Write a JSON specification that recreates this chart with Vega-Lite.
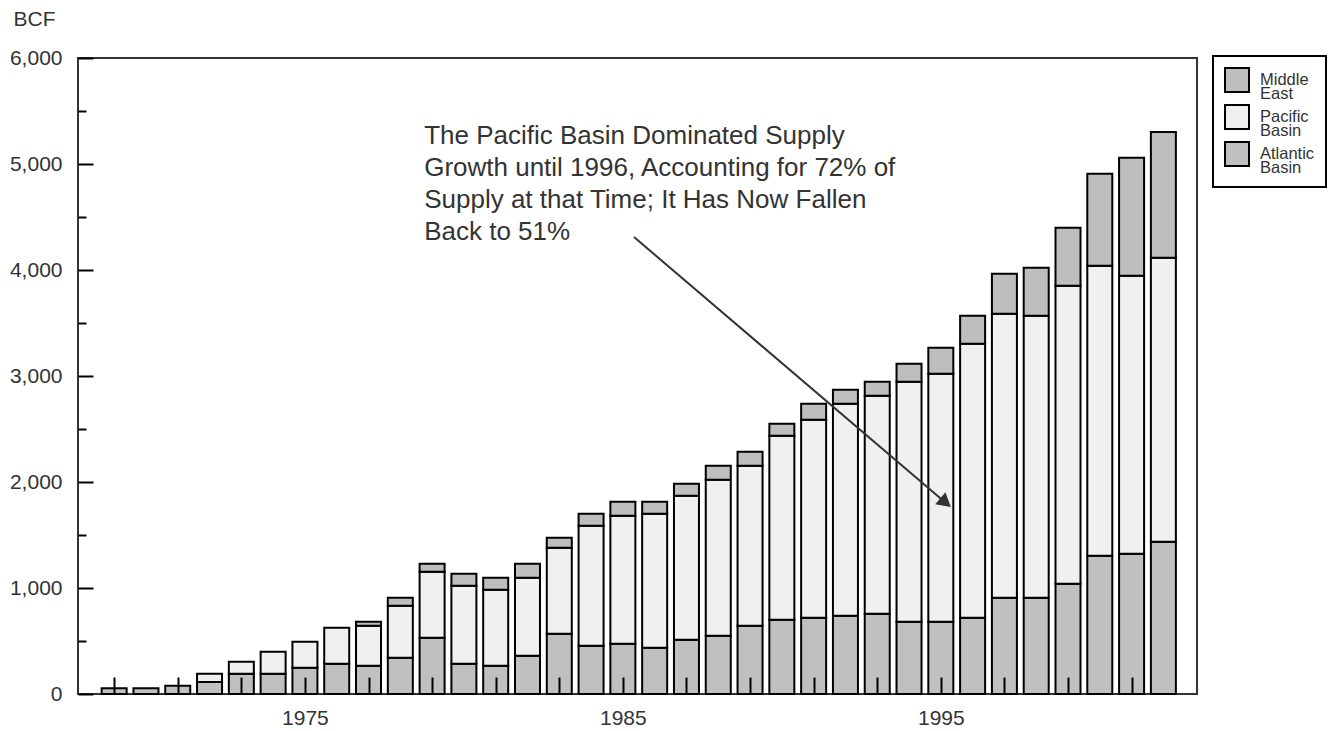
{
  "$schema": "https://vega.github.io/schema/vega-lite/v6.json",
  "width": 1119,
  "height": 636,
  "autosize": {"type": "none"},
  "padding": {"left": 78, "top": 58, "right": 133, "bottom": 37},
  "background": "white",
  "config": {
    "font": "Liberation Sans",
    "view": {"stroke": "#333333", "strokeWidth": 2},
    "axis": {"grid": false, "domain": false}
  },
  "datasets": {
    "supply": [
      {"year": 1969, "region": "Atlantic Basin", "bcf": 55},
      {"year": 1970, "region": "Atlantic Basin", "bcf": 55},
      {"year": 1971, "region": "Atlantic Basin", "bcf": 78},
      {"year": 1972, "region": "Atlantic Basin", "bcf": 113},
      {"year": 1972, "region": "Pacific Basin", "bcf": 79},
      {"year": 1973, "region": "Atlantic Basin", "bcf": 192},
      {"year": 1973, "region": "Pacific Basin", "bcf": 113},
      {"year": 1974, "region": "Atlantic Basin", "bcf": 192},
      {"year": 1974, "region": "Pacific Basin", "bcf": 207},
      {"year": 1975, "region": "Atlantic Basin", "bcf": 248},
      {"year": 1975, "region": "Pacific Basin", "bcf": 246},
      {"year": 1976, "region": "Atlantic Basin", "bcf": 286},
      {"year": 1976, "region": "Pacific Basin", "bcf": 340},
      {"year": 1977, "region": "Atlantic Basin", "bcf": 267},
      {"year": 1977, "region": "Pacific Basin", "bcf": 377},
      {"year": 1977, "region": "Middle East", "bcf": 38},
      {"year": 1978, "region": "Atlantic Basin", "bcf": 342},
      {"year": 1978, "region": "Pacific Basin", "bcf": 491},
      {"year": 1978, "region": "Middle East", "bcf": 76},
      {"year": 1979, "region": "Atlantic Basin", "bcf": 531},
      {"year": 1979, "region": "Pacific Basin", "bcf": 623},
      {"year": 1979, "region": "Middle East", "bcf": 75},
      {"year": 1980, "region": "Atlantic Basin", "bcf": 286},
      {"year": 1980, "region": "Pacific Basin", "bcf": 736},
      {"year": 1980, "region": "Middle East", "bcf": 113},
      {"year": 1981, "region": "Atlantic Basin", "bcf": 267},
      {"year": 1981, "region": "Pacific Basin", "bcf": 717},
      {"year": 1981, "region": "Middle East", "bcf": 113},
      {"year": 1982, "region": "Atlantic Basin", "bcf": 361},
      {"year": 1982, "region": "Pacific Basin", "bcf": 736},
      {"year": 1982, "region": "Middle East", "bcf": 132},
      {"year": 1983, "region": "Atlantic Basin", "bcf": 569},
      {"year": 1983, "region": "Pacific Basin", "bcf": 811},
      {"year": 1983, "region": "Middle East", "bcf": 95},
      {"year": 1984, "region": "Atlantic Basin", "bcf": 456},
      {"year": 1984, "region": "Pacific Basin", "bcf": 1132},
      {"year": 1984, "region": "Middle East", "bcf": 113},
      {"year": 1985, "region": "Atlantic Basin", "bcf": 475},
      {"year": 1985, "region": "Pacific Basin", "bcf": 1207},
      {"year": 1985, "region": "Middle East", "bcf": 132},
      {"year": 1986, "region": "Atlantic Basin", "bcf": 437},
      {"year": 1986, "region": "Pacific Basin", "bcf": 1264},
      {"year": 1986, "region": "Middle East", "bcf": 113},
      {"year": 1987, "region": "Atlantic Basin", "bcf": 512},
      {"year": 1987, "region": "Pacific Basin", "bcf": 1359},
      {"year": 1987, "region": "Middle East", "bcf": 113},
      {"year": 1988, "region": "Atlantic Basin", "bcf": 550},
      {"year": 1988, "region": "Pacific Basin", "bcf": 1472},
      {"year": 1988, "region": "Middle East", "bcf": 132},
      {"year": 1989, "region": "Atlantic Basin", "bcf": 644},
      {"year": 1989, "region": "Pacific Basin", "bcf": 1510},
      {"year": 1989, "region": "Middle East", "bcf": 132},
      {"year": 1990, "region": "Atlantic Basin", "bcf": 701},
      {"year": 1990, "region": "Pacific Basin", "bcf": 1736},
      {"year": 1990, "region": "Middle East", "bcf": 113},
      {"year": 1991, "region": "Atlantic Basin", "bcf": 720},
      {"year": 1991, "region": "Pacific Basin", "bcf": 1868},
      {"year": 1991, "region": "Middle East", "bcf": 151},
      {"year": 1992, "region": "Atlantic Basin", "bcf": 739},
      {"year": 1992, "region": "Pacific Basin", "bcf": 2000},
      {"year": 1992, "region": "Middle East", "bcf": 132},
      {"year": 1993, "region": "Atlantic Basin", "bcf": 758},
      {"year": 1993, "region": "Pacific Basin", "bcf": 2056},
      {"year": 1993, "region": "Middle East", "bcf": 132},
      {"year": 1994, "region": "Atlantic Basin", "bcf": 682},
      {"year": 1994, "region": "Pacific Basin", "bcf": 2264},
      {"year": 1994, "region": "Middle East", "bcf": 170},
      {"year": 1995, "region": "Atlantic Basin", "bcf": 682},
      {"year": 1995, "region": "Pacific Basin", "bcf": 2340},
      {"year": 1995, "region": "Middle East", "bcf": 245},
      {"year": 1996, "region": "Atlantic Basin", "bcf": 720},
      {"year": 1996, "region": "Pacific Basin", "bcf": 2585},
      {"year": 1996, "region": "Middle East", "bcf": 264},
      {"year": 1997, "region": "Atlantic Basin", "bcf": 909},
      {"year": 1997, "region": "Pacific Basin", "bcf": 2679},
      {"year": 1997, "region": "Middle East", "bcf": 377},
      {"year": 1998, "region": "Atlantic Basin", "bcf": 909},
      {"year": 1998, "region": "Pacific Basin", "bcf": 2660},
      {"year": 1998, "region": "Middle East", "bcf": 453},
      {"year": 1999, "region": "Atlantic Basin", "bcf": 1041},
      {"year": 1999, "region": "Pacific Basin", "bcf": 2811},
      {"year": 1999, "region": "Middle East", "bcf": 547},
      {"year": 2000, "region": "Atlantic Basin", "bcf": 1305},
      {"year": 2000, "region": "Pacific Basin", "bcf": 2736},
      {"year": 2000, "region": "Middle East", "bcf": 868},
      {"year": 2001, "region": "Atlantic Basin", "bcf": 1324},
      {"year": 2001, "region": "Pacific Basin", "bcf": 2622},
      {"year": 2001, "region": "Middle East", "bcf": 1114},
      {"year": 2002, "region": "Atlantic Basin", "bcf": 1437},
      {"year": 2002, "region": "Pacific Basin", "bcf": 2679},
      {"year": 2002, "region": "Middle East", "bcf": 1186}
    ]
  },
  "layer": [
    {
      "data": {"name": "supply"},
      "transform": [
        {"calculate": "indexof(['Atlantic Basin', 'Pacific Basin', 'Middle East'], datum.region)", "as": "stack_rank"}
      ],
      "mark": {"type": "bar", "width": 25, "stroke": "black", "strokeWidth": 2, "opacity": 1},
      "encoding": {
        "x": {
          "field": "year",
          "type": "quantitative",
          "scale": {"domain": [1968.02, 2002.9], "nice": false, "zero": false},
          "axis": {
            "title": null,
            "values": [1969,1970,1971,1972,1973,1974,1975,1976,1977,1978,1979,1980,1981,1982,1983,1984,1985,1986,1987,1988,1989,1990,1991,1992,1993,1994,1995,1996,1997,1998,1999,2000,2001,2002],
            "labelExpr": "(datum.value == 1975 || datum.value == 1985 || datum.value == 1995) ? '' + datum.value : ''",
            "tickSize": {"condition": {"test": "datum.value % 2 == 1", "value": -17}, "value": -9},
            "tickColor": "black",
            "tickWidth": 2,
            "labelPadding": 30,
            "labelFontSize": 21,
            "labelColor": "#333333",
            "labelFont": "Liberation Sans",
            "labelBaseline": "top",
            "labelFlush": false,
            "labelOverlap": false,
            "zindex": 1
          }
        },
        "y": {
          "field": "bcf",
          "type": "quantitative",
          "aggregate": "sum",
          "stack": "zero",
          "scale": {"domain": [0, 6000], "nice": false},
          "axis": {
            "title": "BCF",
            "titleAngle": 0,
            "titleAlign": "left",
            "titleBaseline": "top",
            "titleX": -65,
            "titleY": -50,
            "titleFontSize": 21,
            "titleFontWeight": "normal",
            "titleColor": "#333333",
            "titleFont": "Liberation Sans",
            "values": [0,500,1000,1500,2000,2500,3000,3500,4000,4500,5000,5500,6000],
            "labelExpr": "datum.value % 1000 == 0 ? format(datum.value, ',') : ''",
            "tickSize": {"condition": {"test": "datum.value % 1000 == 0", "value": -15}, "value": -8},
            "tickColor": "black",
            "tickWidth": 2,
            "labelPadding": 31,
            "labelFontSize": 21,
            "labelColor": "#333333",
            "labelFont": "Liberation Sans",
            "labelOverlap": false,
            "zindex": 1
          }
        },
        "order": {"field": "stack_rank", "type": "quantitative", "sort": "ascending"},
        "color": {
          "field": "region",
          "type": "nominal",
          "scale": {
            "domain": ["Middle East", "Pacific Basin", "Atlantic Basin"],
            "range": ["#bebebe", "#f0f0f0", "#c0c0c0"]
          },
          "legend": {
            "title": null,
            "orient": "none",
            "legendX": 1135,
            "legendY": -2,
            "padding": 11,
            "strokeColor": "black",
            "symbolType": "square",
            "symbolSize": 576,
            "symbolStrokeColor": "black",
            "symbolStrokeWidth": 2,
            "symbolOpacity": 1,
            "labelFontSize": 16.5,
            "labelFont": "Liberation Sans",
            "labelColor": "#333333",
            "labelOffset": 10,
            "rowPadding": -1,
            "labelExpr": "split(datum.label, ' ')",
            "encode": {
              "labels": {"update": {"lineHeight": {"value": 13.5}}},
              "legend": {"update": {"strokeWidth": {"value": 2}}}
            }
          }
        }
      }
    },
    {
      "data": {"values": [{}]},
      "mark": {
        "type": "text",
        "text": ["The Pacific Basin Dominated Supply", "Growth until 1996, Accounting for 72% of", "Supply at that Time; It Has Now Fallen", "Back to 51%"],
        "align": "left",
        "baseline": "alphabetic",
        "fontSize": 26,
        "lineHeight": 32,
        "font": "Liberation Sans",
        "color": "#333333"
      },
      "encoding": {
        "x": {"datum": 1978.75, "type": "quantitative"},
        "y": {"datum": 5192, "type": "quantitative"}
      }
    },
    {
      "data": {"values": [{}]},
      "mark": {"type": "rule", "color": "#333333", "strokeWidth": 2},
      "encoding": {
        "x": {"datum": 1985.35, "type": "quantitative"},
        "y": {"datum": 4311, "type": "quantitative"},
        "x2": {"datum": 1995.05},
        "y2": {"datum": 1830}
      }
    },
    {
      "data": {"values": [{}]},
      "mark": {"type": "point", "shape": "triangle-right", "filled": true, "color": "#333333", "opacity": 1, "size": 250, "angle": 40},
      "encoding": {
        "x": {"datum": 1995.15, "type": "quantitative"},
        "y": {"datum": 1805, "type": "quantitative"}
      }
    }
  ]
}
